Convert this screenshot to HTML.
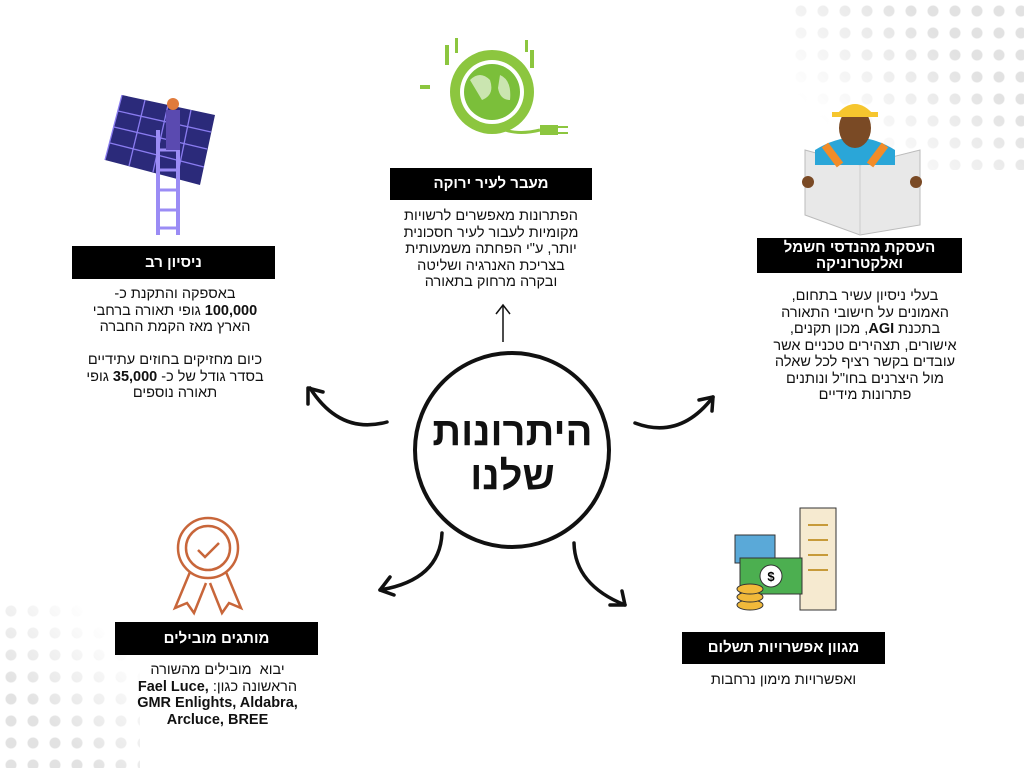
<!DOCTYPE html>
<html><head><meta charset="utf-8"><style>
body{margin:0;width:1024px;height:768px;background:#fff;position:relative;overflow:hidden;font-family:"Liberation Sans","Noto Sans CJK SC",sans-serif;}
.h{position:absolute;background:#000;color:#fff;font-weight:bold;font-size:15px;text-align:center;direction:rtl;display:flex;align-items:center;justify-content:center;line-height:16px}
.t{position:absolute;text-align:center;direction:rtl;font-size:14.5px;line-height:16.5px;color:#111}
.dots{position:absolute;background-image:radial-gradient(circle,#e2e2e2 5px,transparent 6px);background-size:22px 22px}
</style></head><body>
<div class="dots" style="left:790px;top:0;width:234px;height:170px;-webkit-mask-image:linear-gradient(225deg,#000 30%,transparent 80%);mask-image:linear-gradient(225deg,#000 30%,transparent 80%)"></div>
<div class="dots" style="left:0;top:600px;width:140px;height:168px;-webkit-mask-image:linear-gradient(45deg,#000 30%,transparent 80%);mask-image:linear-gradient(45deg,#000 30%,transparent 80%)"></div>

<svg width="1024" height="768" style="position:absolute;left:0;top:0">
<g>
<polygon points="122,95 215,115 200,185 105,160" fill="#2b2a7a"/>
<g stroke="#8a7cf0" stroke-width="1.3">
<line x1="122" y1="95" x2="105" y2="160"/><line x1="145" y1="100" x2="129" y2="166"/><line x1="168" y1="105" x2="153" y2="172"/><line x1="191" y1="110" x2="177" y2="178"/>
<line x1="118" y1="111" x2="211" y2="132"/><line x1="114" y1="127" x2="207" y2="149"/><line x1="110" y1="143" x2="204" y2="167"/>
</g>
<line x1="158" y1="130" x2="158" y2="235" stroke="#9b8cf5" stroke-width="4"/><line x1="178" y1="130" x2="178" y2="235" stroke="#9b8cf5" stroke-width="4"/>
<g stroke="#9b8cf5" stroke-width="3"><line x1="158" y1="150" x2="178" y2="150"/><line x1="158" y1="170" x2="178" y2="170"/><line x1="158" y1="190" x2="178" y2="190"/><line x1="158" y1="210" x2="178" y2="210"/><line x1="158" y1="228" x2="178" y2="228"/></g>
<rect x="166" y="110" width="14" height="40" fill="#5a4ab0"/><circle cx="173" cy="104" r="6" fill="#e07b3c"/>
</g>
<g>
<circle cx="492" cy="92" r="42" fill="#8cc63f"/>
<circle cx="492" cy="92" r="32" fill="#fff"/>
<circle cx="492" cy="92" r="28" fill="#7bbf3a"/>
<path d="M470 80 q10-10 20 0 q5 15 -8 20 z M500 75 q12 5 10 25 q-10 0 -12 -12z" fill="#fff" opacity=".6"/>
<rect x="540" y="125" width="18" height="10" fill="#8cc63f"/><line x1="558" y1="127" x2="568" y2="127" stroke="#8cc63f" stroke-width="2"/><line x1="558" y1="133" x2="568" y2="133" stroke="#8cc63f" stroke-width="2"/>
<path d="M505 130 q15 5 35 0" stroke="#8cc63f" stroke-width="3" fill="none"/>
<g fill="#8cc63f"><rect x="445" y="45" width="4" height="20"/><rect x="455" y="38" width="3" height="15"/><rect x="530" y="50" width="4" height="18"/><rect x="525" y="40" width="3" height="12"/><rect x="420" y="85" width="10" height="4"/></g>
</g>
<g>
<polygon points="805,150 860,165 920,150 920,225 860,235 805,215" fill="#e8e8e8" stroke="#bbb"/>
<line x1="860" y1="165" x2="860" y2="235" stroke="#ccc"/>
<path d="M815 150 q40-25 80 0 l0 15 -80 0z" fill="#2aa6d8"/>
<path d="M825 145 l15 20 M885 145 l-15 20" stroke="#f28c28" stroke-width="8"/>
<ellipse cx="855" cy="128" rx="16" ry="20" fill="#7a4a25"/>
<path d="M836 115 q19-22 38 0 z" fill="#f6c62e"/><rect x="832" y="112" width="46" height="5" fill="#f6c62e"/>
<circle cx="808" cy="182" r="6" fill="#7a4a25"/><circle cx="916" cy="182" r="6" fill="#7a4a25"/>
</g>
<g fill="none" stroke="#c8663a" stroke-width="2.5">
<circle cx="208" cy="548" r="30"/><circle cx="208" cy="548" r="22"/>
<path d="M198 550 l7 7 14-14"/>
<path d="M190 572 l-15 36 12-5 7 10 12-30"/><path d="M226 572 l15 36 -12-5 -7 10 -12-30"/>
</g>
<g>
<rect x="800" y="508" width="36" height="102" fill="#f6ead0" stroke="#333"/>
<g stroke="#c79a3a" stroke-width="2"><line x1="808" y1="525" x2="828" y2="525"/><line x1="808" y1="540" x2="828" y2="540"/><line x1="808" y1="555" x2="828" y2="555"/><line x1="808" y1="570" x2="828" y2="570"/></g>
<rect x="735" y="535" width="40" height="28" fill="#5aa9d8" stroke="#333"/>
<rect x="740" y="558" width="62" height="36" fill="#4caf50" stroke="#333"/>
<circle cx="771" cy="576" r="11" fill="#fff" stroke="#333"/><text x="771" y="581" font-size="13" text-anchor="middle" font-family="Liberation Sans" font-weight="bold">$</text>
<g fill="#f1b93a" stroke="#333"><ellipse cx="750" cy="605" rx="13" ry="5"/><ellipse cx="750" cy="597" rx="13" ry="5"/><ellipse cx="750" cy="589" rx="13" ry="5"/></g>
</g>
<circle cx="512" cy="450" r="97" fill="none" stroke="#111" stroke-width="4"/>
<g fill="none" stroke="#111" stroke-width="3.5" stroke-linecap="round">
<path d="M387 422 Q340 435 310 388"/><path d="M308 388 l0 16 M308 388 l15 4"/>
<path d="M635 423 Q680 440 713 397"/><path d="M713 397 l-14 3 M713 397 l-1 14"/>
<path d="M442 533 Q440 580 380 590"/><path d="M380 590 l10-13 M380 590 l14 5"/>
<path d="M574 543 Q575 585 625 605"/><path d="M625 605 l-3-14 M625 605 l-15 0"/>
</g>
<g stroke="#111" stroke-width="1.5" fill="none"><line x1="503" y1="342" x2="503" y2="305"/><path d="M496 314 l7-9 7 9"/></g>
</svg>

<div style="position:absolute;left:415px;top:410px;width:195px;text-align:center;font-weight:bold;font-size:40px;line-height:44px;direction:rtl;color:#111">היתרונות<br>שלנו</div>

<div class="h" style="left:72px;top:246px;width:203px;height:33px">ניסיון רב</div>
<div class="t" style="left:60px;top:286px;width:230px">באספקה והתקנת כ-<br><b>100,000</b> גופי תאורה ברחבי<br>הארץ מאז הקמת החברה<br><br>כיום מחזיקים בחוזים עתידיים<br>בסדר גודל של כ- <b>35,000</b> גופי<br>תאורה נוספים</div>

<div class="h" style="left:390px;top:168px;width:202px;height:32px">מעבר לעיר ירוקה</div>
<div class="t" style="left:375px;top:208px;width:232px">הפתרונות מאפשרים לרשויות<br>מקומיות לעבור לעיר חסכונית<br>יותר, ע"י הפחתה משמעותית<br>בצריכת האנרגיה ושליטה<br>ובקרה מרחוק בתאורה</div>

<div class="h" style="left:757px;top:238px;width:205px;height:35px">העסקת מהנדסי חשמל<br>ואלקטרוניקה</div>
<div class="t" style="left:760px;top:288px;width:210px">בעלי ניסיון עשיר בתחום,<br>האמונים על חישובי התאורה<br>בתכנת <b>AGI</b>, מכון תקנים,<br>אישורים, תצהירים טכניים אשר<br>עובדים בקשר רציף לכל שאלה<br>מול היצרנים בחו"ל ונותנים<br>פתרונות מידיים</div>

<div class="h" style="left:115px;top:622px;width:203px;height:33px">מותגים מובילים</div>
<div class="t" style="left:105px;top:662px;width:225px">יבוא &nbsp;מובילים מהשורה<br>הראשונה כגון: <b dir="ltr" style="unicode-bidi:isolate">Fael Luce,</b><br><b dir="ltr" style="unicode-bidi:isolate">GMR Enlights, Aldabra,</b><br><b dir="ltr" style="unicode-bidi:isolate">Arcluce, BREE</b></div>

<div class="h" style="left:682px;top:632px;width:203px;height:32px">מגוון אפשרויות תשלום</div>
<div class="t" style="left:680px;top:672px;width:207px">ואפשרויות מימון נרחבות</div>
</body></html>
